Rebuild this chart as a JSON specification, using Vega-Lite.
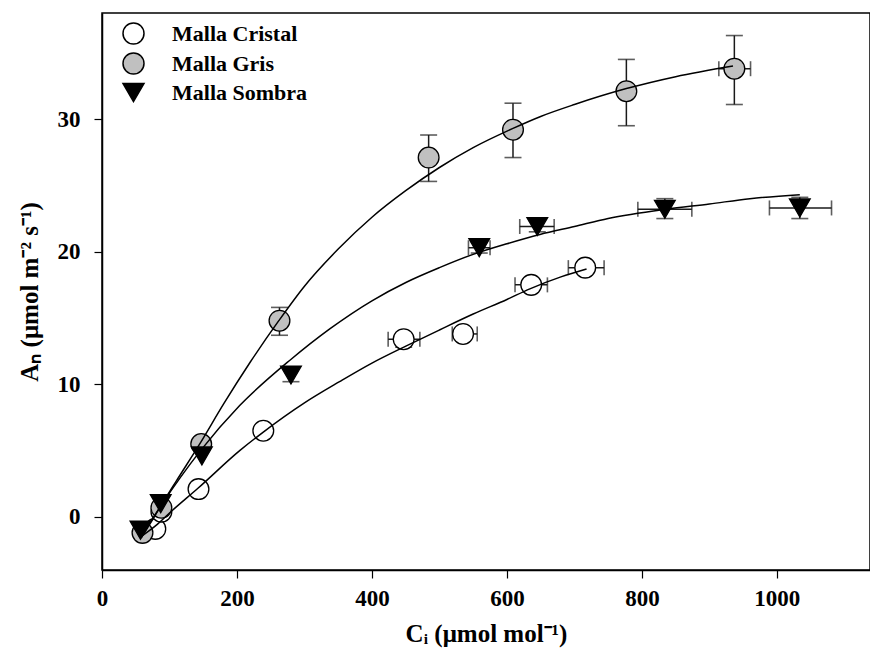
{
  "$schema": "https://vega.github.io/schema/vega-lite/v6.json",
  "width": 768,
  "height": 557,
  "autosize": {"type": "none"},
  "padding": {"left": 102, "top": 13, "right": 0, "bottom": 89},
  "background": "white",
  "config": {
    "view": {"stroke": "black", "strokeWidth": 1.5},
    "font": "Liberation Serif",
    "axis": {
      "labelFont": "Liberation Serif", "labelFontWeight": "bold", "labelFontSize": 23, "labelColor": "black",
      "titleFont": "Liberation Serif", "titleFontWeight": "bold", "titleFontSize": 25, "titleColor": "black",
      "domainColor": "black", "domainWidth": 1.5, "tickColor": "black", "tickWidth": 1.2, "tickSize": 8,
      "grid": false
    },
    "legend": {
      "labelFont": "Liberation Serif", "labelFontWeight": "bold", "labelFontSize": 22, "labelColor": "black"
    }
  },
  "datasets": {
    "points": [
      {"serie": "Malla Cristal", "ci": 79, "an": -0.9},
      {"serie": "Malla Cristal", "ci": 88, "an": 0.4},
      {"serie": "Malla Cristal", "ci": 143, "an": 2.1},
      {"serie": "Malla Cristal", "ci": 239, "an": 6.5},
      {"serie": "Malla Cristal", "ci": 447, "an": 13.4, "xlo": 424, "xhi": 471, "ylo": 12.8, "yhi": 13.9},
      {"serie": "Malla Cristal", "ci": 535, "an": 13.8, "xlo": 519, "xhi": 556},
      {"serie": "Malla Cristal", "ci": 636, "an": 17.5, "xlo": 612, "xhi": 660},
      {"serie": "Malla Cristal", "ci": 716, "an": 18.8, "xlo": 691, "xhi": 744},
      {"serie": "Malla Gris", "ci": 60, "an": -1.2},
      {"serie": "Malla Gris", "ci": 88, "an": 0.7},
      {"serie": "Malla Gris", "ci": 147, "an": 5.5},
      {"serie": "Malla Gris", "ci": 263, "an": 14.8, "ylo": 13.7, "yhi": 15.8},
      {"serie": "Malla Gris", "ci": 484, "an": 27.1, "ylo": 25.3, "yhi": 28.8},
      {"serie": "Malla Gris", "ci": 609, "an": 29.2, "ylo": 27.1, "yhi": 31.2},
      {"serie": "Malla Gris", "ci": 777, "an": 32.1, "ylo": 29.5, "yhi": 34.5},
      {"serie": "Malla Gris", "ci": 937, "an": 33.8, "ylo": 31.1, "yhi": 36.3, "xlo": 914, "xhi": 961},
      {"serie": "Malla Sombra", "ci": 57, "an": -1.0},
      {"serie": "Malla Sombra", "ci": 87, "an": 1.0},
      {"serie": "Malla Sombra", "ci": 148, "an": 4.6},
      {"serie": "Malla Sombra", "ci": 280, "an": 10.7, "ylo": 10.2, "yhi": 11.3},
      {"serie": "Malla Sombra", "ci": 559, "an": 20.3, "xlo": 543, "xhi": 575, "ylo": 19.9, "yhi": 20.7},
      {"serie": "Malla Sombra", "ci": 645, "an": 21.9, "xlo": 619, "xhi": 670, "ylo": 21.5, "yhi": 22.3},
      {"serie": "Malla Sombra", "ci": 834, "an": 23.2, "xlo": 794, "xhi": 874, "ylo": 22.5, "yhi": 24.0},
      {"serie": "Malla Sombra", "ci": 1034, "an": 23.3, "xlo": 989, "xhi": 1081, "ylo": 22.5, "yhi": 24.1}
    ],
    "curves": [
      {"serie": "Malla Gris", "ci": 58, "an": -1.6},
      {"serie": "Malla Gris", "ci": 75, "an": -0.2},
      {"serie": "Malla Gris", "ci": 88, "an": 0.9},
      {"serie": "Malla Gris", "ci": 110, "an": 2.7},
      {"serie": "Malla Gris", "ci": 146, "an": 5.6},
      {"serie": "Malla Gris", "ci": 180, "an": 8.5},
      {"serie": "Malla Gris", "ci": 220, "an": 11.7},
      {"serie": "Malla Gris", "ci": 262, "an": 14.8},
      {"serie": "Malla Gris", "ci": 300, "an": 17.4},
      {"serie": "Malla Gris", "ci": 350, "an": 20.2},
      {"serie": "Malla Gris", "ci": 400, "an": 22.6},
      {"serie": "Malla Gris", "ci": 450, "an": 24.6},
      {"serie": "Malla Gris", "ci": 500, "an": 26.35},
      {"serie": "Malla Gris", "ci": 550, "an": 27.85},
      {"serie": "Malla Gris", "ci": 609, "an": 29.3},
      {"serie": "Malla Gris", "ci": 650, "an": 30.2},
      {"serie": "Malla Gris", "ci": 700, "an": 31.1},
      {"serie": "Malla Gris", "ci": 777, "an": 32.3},
      {"serie": "Malla Gris", "ci": 850, "an": 33.2},
      {"serie": "Malla Gris", "ci": 935, "an": 34.0},
      {"serie": "Malla Sombra", "ci": 58, "an": -1.5},
      {"serie": "Malla Sombra", "ci": 88, "an": 0.9},
      {"serie": "Malla Sombra", "ci": 146, "an": 5.0},
      {"serie": "Malla Sombra", "ci": 204, "an": 8.4},
      {"serie": "Malla Sombra", "ci": 278, "an": 11.8},
      {"serie": "Malla Sombra", "ci": 338, "an": 14.2},
      {"serie": "Malla Sombra", "ci": 400, "an": 16.3},
      {"serie": "Malla Sombra", "ci": 451, "an": 17.7},
      {"serie": "Malla Sombra", "ci": 500, "an": 18.8},
      {"serie": "Malla Sombra", "ci": 550, "an": 19.8},
      {"serie": "Malla Sombra", "ci": 600, "an": 20.6},
      {"serie": "Malla Sombra", "ci": 649, "an": 21.3},
      {"serie": "Malla Sombra", "ci": 700, "an": 21.9},
      {"serie": "Malla Sombra", "ci": 750, "an": 22.5},
      {"serie": "Malla Sombra", "ci": 836, "an": 23.2},
      {"serie": "Malla Sombra", "ci": 900, "an": 23.6},
      {"serie": "Malla Sombra", "ci": 960, "an": 24.0},
      {"serie": "Malla Sombra", "ci": 1034, "an": 24.3},
      {"serie": "Malla Cristal", "ci": 60, "an": -1.4},
      {"serie": "Malla Cristal", "ci": 81, "an": -0.6},
      {"serie": "Malla Cristal", "ci": 100, "an": 0.3},
      {"serie": "Malla Cristal", "ci": 143, "an": 2.2},
      {"serie": "Malla Cristal", "ci": 204, "an": 5.0},
      {"serie": "Malla Cristal", "ci": 239, "an": 6.4},
      {"serie": "Malla Cristal", "ci": 300, "an": 8.6},
      {"serie": "Malla Cristal", "ci": 352, "an": 10.2},
      {"serie": "Malla Cristal", "ci": 400, "an": 11.6},
      {"serie": "Malla Cristal", "ci": 451, "an": 12.9},
      {"serie": "Malla Cristal", "ci": 500, "an": 14.1},
      {"serie": "Malla Cristal", "ci": 550, "an": 15.3},
      {"serie": "Malla Cristal", "ci": 600, "an": 16.4},
      {"serie": "Malla Cristal", "ci": 634, "an": 17.2},
      {"serie": "Malla Cristal", "ci": 680, "an": 18.1},
      {"serie": "Malla Cristal", "ci": 718, "an": 18.7}
    ]
  },
  "layer": [
    {
      "mark": {"type": "rule", "color": "#333333", "strokeWidth": 1.3, "strokeDash": [22, 8]},
      "encoding": {"y": {"datum": 0, "type": "quantitative", "scale": {"domain": [-4, 38], "nice": false, "zero": false}}}
    },
    {
      "data": {"name": "points"},
      "transform": [{"filter": "isValid(datum.ylo)"}],
      "mark": {"type": "rule", "color": "#1a1a1a", "strokeWidth": 1.5},
      "encoding": {
        "x": {"field": "ci", "type": "quantitative"},
        "y": {"field": "ylo", "type": "quantitative"},
        "y2": {"field": "yhi"}
      }
    },
    {
      "data": {"name": "points"},
      "transform": [{"filter": "isValid(datum.ylo)"}],
      "mark": {"type": "tick", "orient": "horizontal", "color": "#1a1a1a", "thickness": 1.6, "size": 17},
      "encoding": {
        "x": {"field": "ci", "type": "quantitative"},
        "y": {"field": "ylo", "type": "quantitative"}
      }
    },
    {
      "data": {"name": "points"},
      "transform": [{"filter": "isValid(datum.yhi)"}],
      "mark": {"type": "tick", "orient": "horizontal", "color": "#1a1a1a", "thickness": 1.6, "size": 17},
      "encoding": {
        "x": {"field": "ci", "type": "quantitative"},
        "y": {"field": "yhi", "type": "quantitative"}
      }
    },
    {
      "data": {"name": "points"},
      "transform": [{"filter": "isValid(datum.xlo)"}],
      "mark": {"type": "rule", "color": "#1a1a1a", "strokeWidth": 1.5},
      "encoding": {
        "x": {"field": "xlo", "type": "quantitative"},
        "x2": {"field": "xhi"},
        "y": {"field": "an", "type": "quantitative"}
      }
    },
    {
      "data": {"name": "points"},
      "transform": [{"filter": "isValid(datum.xlo)"}],
      "mark": {"type": "tick", "orient": "vertical", "color": "#1a1a1a", "thickness": 1.6, "size": 15},
      "encoding": {
        "x": {"field": "xlo", "type": "quantitative"},
        "y": {"field": "an", "type": "quantitative"}
      }
    },
    {
      "data": {"name": "points"},
      "transform": [{"filter": "isValid(datum.xhi)"}],
      "mark": {"type": "tick", "orient": "vertical", "color": "#1a1a1a", "thickness": 1.6, "size": 15},
      "encoding": {
        "x": {"field": "xhi", "type": "quantitative"},
        "y": {"field": "an", "type": "quantitative"}
      }
    },
    {
      "data": {"name": "points"},
      "mark": {"type": "point", "filled": true, "stroke": "black", "strokeWidth": 1.3, "size": 430, "opacity": 1},
      "encoding": {
        "x": {
          "field": "ci", "type": "quantitative",
          "scale": {"domain": [0, 1138], "nice": false, "zero": false},
          "axis": {"values": [0, 200, 400, 600, 800, 1000], "format": "d", "title": "Cᵢ (μmol mol⁻¹)", "labelPadding": 9, "titlePadding": 11, "labelFlush": false}
        },
        "y": {
          "field": "an", "type": "quantitative",
          "scale": {"domain": [-4, 38], "nice": false, "zero": false},
          "axis": {"values": [0, 10, 20, 30], "title": "Aₙ (μmol m⁻² s⁻¹)", "labelPadding": 14, "titlePadding": 15, "labelFlush": false}
        },
        "fill": {
          "field": "serie", "type": "nominal",
          "scale": {"domain": ["Malla Cristal", "Malla Gris", "Malla Sombra"], "range": ["white", "#c0c0c0", "black"]},
          "legend": {
            "title": null, "orient": "none", "legendX": 20, "legendY": 9, "symbolSize": 441,
            "labelOffset": 27, "rowPadding": 3, "padding": 0, "symbolOpacity": 1,
            "encode": {"symbols": {"update": {"stroke": {"value": "black"}, "strokeWidth": {"value": 1.3}, "opacity": {"value": 1}}}}
          }
        },
        "shape": {
          "field": "serie", "type": "nominal",
          "scale": {"domain": ["Malla Cristal", "Malla Gris", "Malla Sombra"], "range": ["circle", "circle", "triangle-down"]},
          "legend": {
            "title": null, "orient": "none", "legendX": 20, "legendY": 9, "symbolSize": 441,
            "labelOffset": 27, "rowPadding": 3, "padding": 0, "symbolOpacity": 1,
            "encode": {"symbols": {"update": {"stroke": {"value": "black"}, "strokeWidth": {"value": 1.3}, "opacity": {"value": 1}}}}
          }
        }
      }
    },
    {
      "data": {"name": "curves"},
      "mark": {"type": "line", "color": "black", "strokeWidth": 1.5, "interpolate": "monotone"},
      "encoding": {
        "x": {"field": "ci", "type": "quantitative"},
        "y": {"field": "an", "type": "quantitative"},
        "detail": {"field": "serie", "type": "nominal"}
      }
    }
  ]
}
